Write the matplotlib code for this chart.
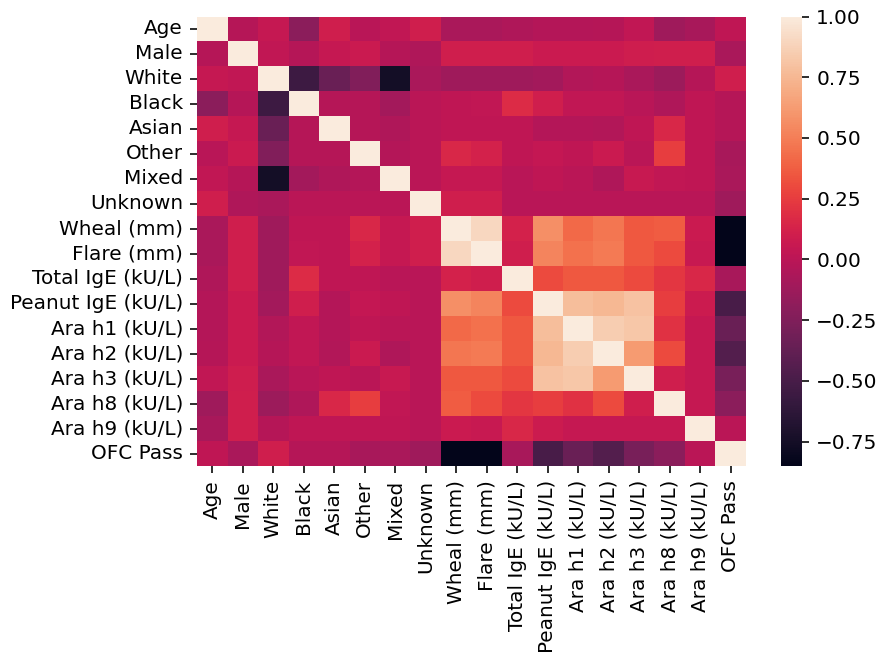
import numpy as np
import pandas as pd
import matplotlib
matplotlib.use("Agg")
import matplotlib.pyplot as plt
import seaborn as sns

labels = ["Age", "Male", "White", "Black", "Asian", "Other", "Mixed", "Unknown",
          "Wheal (mm)", "Flare (mm)", "Total IgE (kU/L)", "Peanut IgE (kU/L)",
          "Ara h1 (kU/L)", "Ara h2 (kU/L)", "Ara h3 (kU/L)", "Ara h8 (kU/L)",
          "Ara h9 (kU/L)", "OFC Pass"]

# Lower triangle of the correlation matrix, one row per variable
row_male = [-0.02]
row_white = [0.05, 0.03]
row_black = [-0.20, -0.02, -0.55]
row_asian = [0.10, 0.05, -0.35, -0.02]
row_other = [-0.01, 0.07, -0.25, -0.02, -0.02]
row_mixed = [0.03, -0.02, -0.75, -0.10, -0.05, -0.03]
row_unknown = [0.10, -0.05, -0.07, 0.00, 0.00, 0.00, 0.00]
row_wheal = [-0.07, 0.10, -0.12, 0.02, 0.02, 0.15, 0.05, 0.10]
row_flare = [-0.07, 0.10, -0.12, 0.03, 0.02, 0.12, 0.05, 0.10, 0.90]
row_total_ige = [-0.05, 0.10, -0.12, 0.17, 0.02, 0.02, -0.01, -0.01, 0.12, 0.10]
row_peanut_ige = [-0.03, 0.07, -0.10, 0.10, -0.03, 0.04, 0.02, -0.01, 0.57, 0.53, 0.30]
row_ara_h1 = [-0.03, 0.07, -0.04, 0.03, -0.03, 0.02, 0.00, -0.01, 0.42, 0.45, 0.35, 0.78]
row_ara_h2 = [-0.02, 0.07, -0.02, 0.03, -0.04, 0.07, -0.05, -0.01, 0.47, 0.48, 0.35, 0.75, 0.85]
row_ara_h3 = [0.03, 0.09, -0.07, -0.01, 0.02, 0.00, 0.06, -0.01, 0.35, 0.35, 0.30, 0.80, 0.82, 0.62]
row_ara_h8 = [-0.12, 0.10, -0.13, -0.05, 0.15, 0.25, 0.03, -0.01, 0.37, 0.30, 0.22, 0.25, 0.20, 0.30, 0.10]
row_ara_h9 = [-0.08, 0.10, -0.02, 0.02, 0.02, 0.02, 0.02, -0.01, 0.07, 0.06, 0.15, 0.08, 0.05, 0.05, 0.05, 0.05]
row_ofc_pass = [0.02, -0.07, 0.10, -0.02, -0.02, -0.08, -0.07, -0.12, -0.85, -0.85, -0.08,
                -0.50, -0.35, -0.45, -0.28, -0.20, 0.00]

lower_rows = [[], row_male, row_white, row_black, row_asian, row_other, row_mixed,
              row_unknown, row_wheal, row_flare, row_total_ige, row_peanut_ige,
              row_ara_h1, row_ara_h2, row_ara_h3, row_ara_h8, row_ara_h9, row_ofc_pass]

n = len(labels)
corr = np.eye(n)
for i, row in enumerate(lower_rows):
    for j, v in enumerate(row):
        corr[i, j] = v
        corr[j, i] = v
df = pd.DataFrame(corr, index=labels, columns=labels)

dpi = 144
fig = plt.figure(figsize=(879 / dpi, 654 / dpi), dpi=dpi)
ax = fig.add_axes([197 / 879, 1 - 466 / 654, 549 / 879, 449.5 / 654])
cax = fig.add_axes([780.7 / 879, 1 - 466 / 654, 21.6 / 879, 449.5 / 654])

sns.heatmap(df, ax=ax, cbar_ax=cax, cmap="rocket")
cax.tick_params(labelsize=10)
ax.tick_params(labelsize=10)

fig.savefig("out.png", dpi=dpi)
